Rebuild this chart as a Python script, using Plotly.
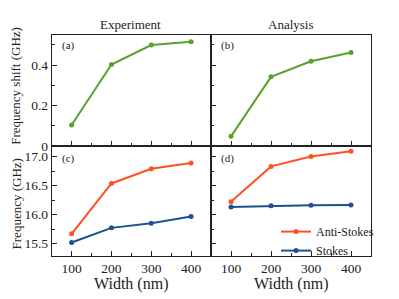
import plotly.graph_objects as go

widths = [100, 200, 300, 400]
shift_exp = [0.104, 0.403, 0.499, 0.515]
shift_ana = [0.048, 0.342, 0.419, 0.462]
anti_exp = [15.668, 16.536, 16.788, 16.889]
stokes_exp = [15.517, 15.77, 15.85, 15.966]
anti_ana = [16.22, 16.83, 17.0, 17.09]
stokes_ana = [16.13, 16.15, 16.16, 16.165]

GREEN = "#5b9f2c"
ORANGE = "#ff5024"
BLUE = "#1d5190"
FONT = "Liberation Serif"

OFF = 8  # page body margin
W, H = 399 - OFF, 299 - OFF

def px(x):
    return (x - OFF) / W

def py(y):
    return (H - (y - OFF)) / H

xl0, xl1, xr1 = px(51.7), px(211.0), px(371.0)
yb0, ym, yt1 = py(262.7), py(150.0), py(35.5)

fig = go.Figure()

def add(x, y, color, xa, ya, name=None, show=False):
    fig.add_trace(go.Scatter(x=x, y=y, mode="lines+markers", name=name,
                             line=dict(color=color, width=2),
                             marker=dict(color=color, size=5, symbol="circle"),
                             xaxis=xa, yaxis=ya, showlegend=show))

add(widths, shift_exp, GREEN, "x", "y")
add(widths, shift_ana, GREEN, "x2", "y2")
add(widths, anti_exp, ORANGE, "x3", "y3")
add(widths, stokes_exp, BLUE, "x3", "y3")
add(widths, anti_ana, ORANGE, "x4", "y4", "Anti-Stokes", True)
add(widths, stokes_ana, BLUE, "x4", "y4", "Stokes", True)

common = dict(showline=True, linecolor="#222", linewidth=1, mirror=True,
              ticks="inside", ticklen=5, tickcolor="#222", showgrid=False,
              zeroline=False, tickfont=dict(family=FONT, size=13.5, color="#222"))
xcommon = dict(common, range=[50, 450], tickvals=widths,
               minor=dict(ticks="inside", ticklen=3, tickcolor="#222", dtick=50, tick0=50))
ytop = dict(common, range=[0, 0.55], tickvals=[0, 0.2, 0.4], ticktext=["0", "0.2", "0.4"],
            minor=dict(ticks="inside", ticklen=3, tickcolor="#222", dtick=0.1, tick0=0))
ybot = dict(common, range=[15.29, 17.18], tickvals=[15.5, 16.0, 16.5, 17.0],
            ticktext=["15.5", "16.0", "16.5", "17.0"],
            minor=dict(ticks="inside", ticklen=3, tickcolor="#222", dtick=0.25, tick0=15.5))

fig.update_layout(
    width=W, height=H, margin=dict(l=0, r=0, t=0, b=0),
    paper_bgcolor="white", plot_bgcolor="white",
    font=dict(family=FONT, color="#222"),
    xaxis=dict(xcommon, domain=[xl0, xl1], anchor="y", showticklabels=False),
    yaxis=dict(ytop, domain=[ym, yt1], anchor="x"),
    xaxis2=dict(xcommon, domain=[xl1, xr1], anchor="y2", showticklabels=False),
    yaxis2=dict(ytop, domain=[ym, yt1], anchor="x2", showticklabels=False),
    xaxis3=dict(xcommon, domain=[xl0, xl1], anchor="y3"),
    yaxis3=dict(ybot, domain=[yb0, ym], anchor="x3"),
    xaxis4=dict(xcommon, domain=[xl1, xr1], anchor="y4"),
    yaxis4=dict(ybot, domain=[yb0, ym], anchor="x4", showticklabels=False),
    legend=dict(x=px(276), y=py(223), xanchor="left", yanchor="top",
                bgcolor="rgba(0,0,0,0)", font=dict(family=FONT, size=12),
                itemwidth=30, tracegroupgap=0),
)

ann = []
def text(x, y, t, size, angle=0, xanchor="center"):
    ann.append(dict(x=px(x), y=py(y), xref="paper", yref="paper", text=t,
                    showarrow=False, textangle=angle, xanchor=xanchor, yanchor="middle",
                    font=dict(family=FONT, size=size, color="#222")))

text(131, 25, "Experiment", 13)
text(291, 25, "Analysis", 13)
text(16, 88, "Frequency shift (GHz)", 13, -90)
text(16, 210, "Frequency (GHz)", 13, -90)
text(131, 291.5, "Width (nm)", 16)
text(291, 291.5, "Width (nm)", 16)
text(60, 47, "(a)", 11, xanchor="left")
text(219, 47, "(b)", 11, xanchor="left")
text(60, 163, "(c)", 11, xanchor="left")
text(219, 163, "(d)", 11, xanchor="left")
fig.update_layout(annotations=ann)

fig.write_html("out.html")
